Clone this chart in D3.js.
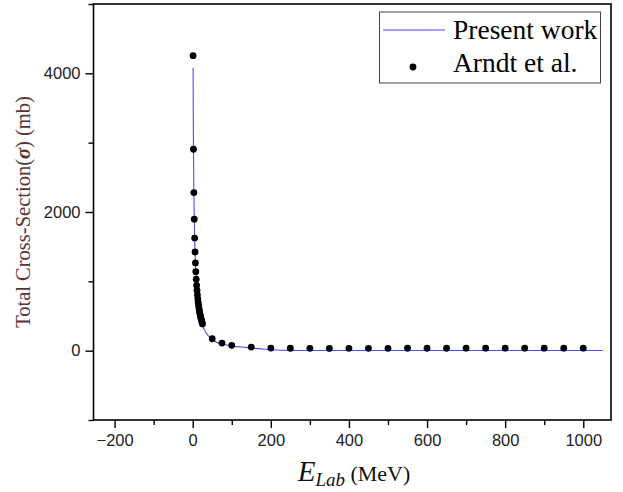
<!DOCTYPE html>
<html>
<head>
<meta charset="utf-8">
<script src="https://cdn.jsdelivr.net/npm/d3@7"></script>
<style>
  html, body { margin: 0; padding: 0; background: #fff; }
  svg { display: block; }
</style>
</head>
<body>
<svg id="chart" width="623" height="492"></svg>
<script>
// ---- data ----
const arndtE = [1, 2, 3, 4, 5, 6, 7, 8, 9, 10, 11, 12, 13, 14, 15, 16, 17, 18, 19, 20, 21, 22, 23, 24, 25,
  50, 75, 100, 150, 200, 250, 300, 350, 400, 450, 500, 550, 600, 650, 700, 750, 800, 850, 900, 950, 1000];
const arndtSigma = [4255, 2905, 2280, 1897, 1624, 1423, 1265, 1140, 1030, 940, 870, 805, 748, 698, 655, 615, 580, 548, 520, 494, 470, 448, 428, 409, 385,
  172, 110, 77, 52, 37, 35, 34, 33, 34, 34, 34, 35, 35, 35, 36, 36, 36, 36, 36, 36, 36];

const presentE = [1, 1.5, 2, 3, 4, 5, 6, 7, 8, 10, 12, 15, 20, 25, 30, 40, 50, 60, 75, 100, 125, 150, 175, 200, 225, 250, 300, 400, 500, 600, 700, 800, 900, 1000, 1050];
const presentSigma = [4080, 3400, 2900, 2280, 1900, 1625, 1420, 1265, 1140, 940, 800, 645, 475, 370, 300, 215, 165, 125, 95, 68, 52, 39, 26, 14, 6, 4, 3, 2, 2, 2, 2, 2, 2, 2, 2];

const xDomain = [-254, 1071];
const yDomain = [-1000, 5000];
const xMajorTicks = [-200, 0, 200, 400, 600, 800, 1000];
const xMinorTicks = [-100, 100, 300, 500, 700, 900];
const yMajorTicks = [0, 2000, 4000];
const yMinorTicks = [-1000, 1000, 3000, 5000];
const legendLabels = ["Present work", "Arndt et al."];

// ---- layout ----
const svg = d3.select("#chart");
const L = 93.5, R = 611, T = 4, B = 420;
const x = d3.scaleLinear().domain(xDomain).range([L, R]);
const y = d3.scaleLinear().domain(yDomain).range([B, T]);

// line
const line = d3.line().x((d, i) => x(presentE[i])).y((d, i) => y(presentSigma[i])).curve(d3.curveMonotoneX);
svg.append("path")
  .attr("d", line(presentE))
  .attr("fill", "none")
  .attr("stroke", "#4b4bff")
  .attr("stroke-width", 1.1);

// dots
svg.append("g").selectAll("circle")
  .data(arndtE)
  .join("circle")
  .attr("cx", (d) => x(d))
  .attr("cy", (d, i) => y(arndtSigma[i]))
  .attr("r", 3.4)
  .attr("fill", "#000");

// axes
const xAxis = d3.axisBottom(x).tickValues(xMajorTicks).tickSize(8).tickPadding(6).tickFormat(d => d < 0 ? "\u2212" + Math.abs(d) : String(d));
const xMinor = d3.axisBottom(x).tickValues(xMinorTicks).tickSize(5).tickFormat("");
const yAxis = d3.axisLeft(y).tickValues(yMajorTicks).tickSize(8).tickPadding(5).tickFormat(d => String(d));
const yMinor = d3.axisLeft(y).tickValues(yMinorTicks).tickSize(5).tickFormat("");

function styleAxis(g) {
  g.select(".domain").remove();
  g.selectAll("line").attr("stroke", "#000").attr("stroke-width", 1.4);
  g.selectAll("text").attr("font-family", "Arial, 'Liberation Sans', sans-serif").attr("font-size", 16.5).attr("fill", "#222");
}
svg.append("g").attr("transform", `translate(0,${B})`).call(xAxis).call(styleAxis);
svg.append("g").attr("transform", `translate(0,${B})`).call(xMinor).call(styleAxis);
svg.append("g").attr("transform", `translate(${L},0)`).call(yAxis).call(styleAxis);
svg.append("g").attr("transform", `translate(${L},0)`).call(yMinor).call(styleAxis);

// frame
svg.append("rect")
  .attr("x", L).attr("y", T).attr("width", R - L).attr("height", B - T)
  .attr("fill", "none").attr("stroke", "#000").attr("stroke-width", 1.6);

// legend
const lg = svg.append("g");
lg.append("rect").attr("x", 379.5).attr("y", 12).attr("width", 221).attr("height", 71)
  .attr("fill", "#fff").attr("stroke", "#444").attr("stroke-width", 1);
lg.append("line").attr("x1", 383).attr("x2", 445).attr("y1", 30).attr("y2", 30)
  .attr("stroke", "#4b4bff").attr("stroke-width", 1.1);
lg.append("circle").attr("cx", 413).attr("cy", 67).attr("r", 3.4).attr("fill", "#000");
lg.selectAll("text").data(legendLabels).join("text")
  .attr("x", 453).attr("y", (d, i) => i === 0 ? 38.5 : 72)
  .attr("font-family", "'Times New Roman', 'Liberation Serif', serif")
  .attr("font-size", 27.5).attr("fill", "#000")
  .text(d => d);

// x label
const xl = svg.append("text")
  .attr("x", 354).attr("y", 481)
  .attr("text-anchor", "middle")
  .attr("font-family", "'Times New Roman', 'Liberation Serif', serif")
  .attr("fill", "#111");
xl.append("tspan").attr("font-style", "italic").attr("font-size", 29).text("E");
xl.append("tspan").attr("font-style", "italic").attr("font-size", 19).attr("dy", 5).text("Lab");
xl.append("tspan").attr("font-size", 22).attr("dy", -5).text(" (MeV)");

// y label
const yl = svg.append("text")
  .attr("transform", "translate(30,212) rotate(-90)")
  .attr("text-anchor", "middle")
  .attr("font-family", "'Times New Roman', 'Liberation Serif', serif")
  .attr("font-size", 20.5)
  .attr("fill", "#5a3434");
yl.append("tspan").text("Total Cross-Section(");
yl.append("tspan").attr("font-style", "italic").attr("font-weight", "bold").text("\u03C3");
yl.append("tspan").text(") (mb)");
</script>
</body>
</html>
